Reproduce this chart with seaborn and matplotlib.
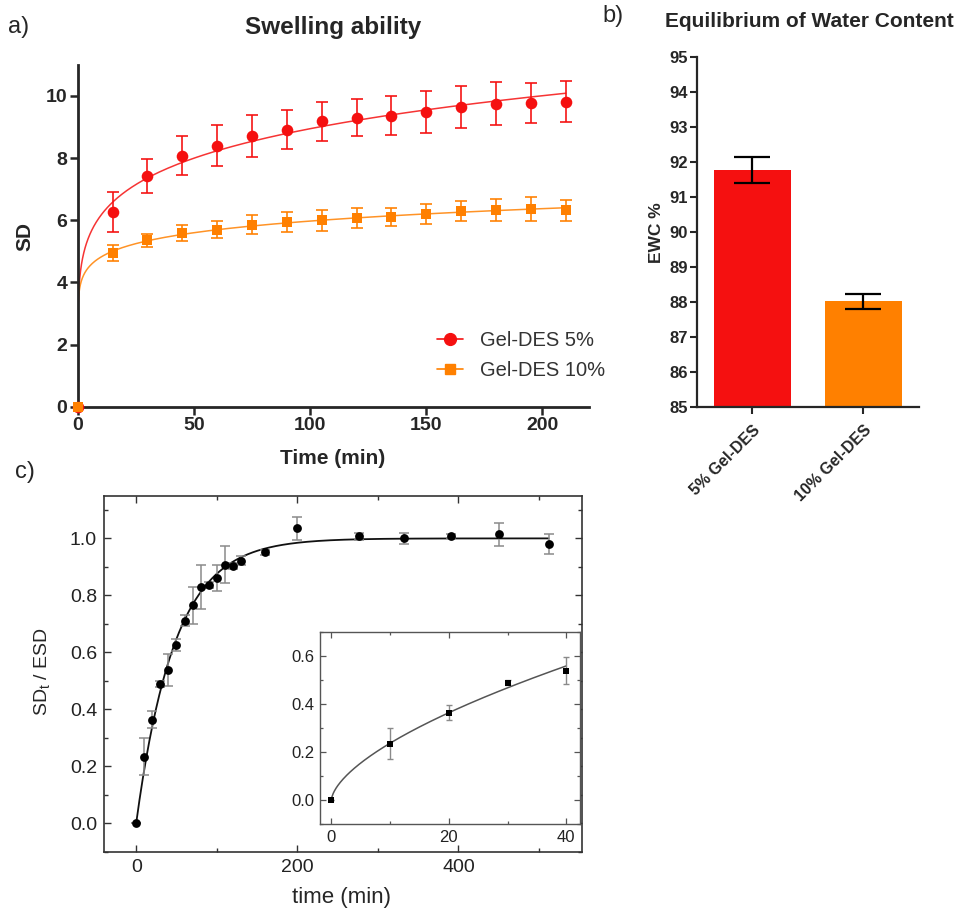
import numpy as np
import matplotlib
matplotlib.use('Agg')
import matplotlib.pyplot as plt
import seaborn as sns
from matplotlib.lines import Line2D
from matplotlib.ticker import MultipleLocator

# a) swelling degree vs time
time_a = [0, 15, 30, 45, 60, 75, 90, 105, 120, 135, 150, 165, 180, 195, 210]
sd_5 = [0, 6.27, 7.43, 8.08, 8.40, 8.72, 8.92, 9.19, 9.30, 9.37, 9.49, 9.64, 9.75, 9.78, 9.82]
err_5 = [0, 0.65, 0.55, 0.62, 0.65, 0.68, 0.63, 0.63, 0.60, 0.62, 0.68, 0.67, 0.70, 0.64, 0.66]
sd_10 = [0, 4.95, 5.35, 5.59, 5.70, 5.86, 5.95, 6.00, 6.08, 6.11, 6.19, 6.30, 6.32, 6.36, 6.32]
err_10 = [0, 0.27, 0.22, 0.27, 0.27, 0.30, 0.33, 0.33, 0.32, 0.30, 0.32, 0.33, 0.35, 0.38, 0.34]

# b) equilibrium water content
groups = ['5% Gel-DES', '10% Gel-DES']
ewc = [91.77, 88.02]
ewc_err = [0.36, 0.22]

# c) SDt / ESD
time_c = [0, 10, 20, 30, 40, 50, 60, 70, 80, 90, 100, 110, 120, 130, 160, 200, 277, 332, 391, 451, 512]
ratio_c = [0, 0.234, 0.363, 0.488, 0.538, 0.626, 0.711, 0.765, 0.830, 0.836, 0.860, 0.908,
           0.904, 0.922, 0.951, 1.035, 1.008, 1.000, 1.009, 1.015, 0.980]
err_c = [0, 0.065, 0.03, 0.01, 0.056, 0.02, 0.02, 0.065, 0.078, 0.01, 0.045, 0.066,
         0.01, 0.015, 0.008, 0.04, 0.012, 0.02, 0.008, 0.04, 0.034]
n_inset = 5  # first points (0-40 min) shown in the inset

RED = '#f51010'
ORANGE = '#ff8000'


def power_fit(x, y):
    x = np.asarray(x, float)
    y = np.asarray(y, float)
    m = x > 0
    b, lna = np.polyfit(np.log(x[m]), np.log(y[m]), 1)
    return np.exp(lna), b


sns.set_theme(style='ticks')
plt.rcParams['font.family'] = ['Liberation Sans', 'DejaVu Sans']
plt.rcParams['mathtext.default'] = 'regular'

fig = plt.figure(figsize=(9.6, 9.14), dpi=100)

# ---------------- a) ----------------
ax = fig.add_axes([0.081, 0.555, 0.5325, 0.374])
t_fit = np.concatenate([[0], np.geomspace(1e-5, 210, 500)])
for y, e, col, mk, s in [(sd_5, err_5, RED, 'o', 70), (sd_10, err_10, ORANGE, 's', 52)]:
    a, b = power_fit(time_a, y)
    yf = np.where(t_fit > 0, a * np.power(np.maximum(t_fit, 1e-12), b), 0)
    sns.lineplot(x=t_fit, y=yf, ax=ax, color=col, lw=1.1, alpha=0.85, sort=False)
    ax.errorbar(time_a[1:], y[1:], yerr=e[1:], fmt='none', ecolor=col, elinewidth=1.3,
                capsize=4, capthick=1.3, alpha=0.9)
    sns.scatterplot(x=time_a, y=y, ax=ax, marker=mk, s=s, color=col, edgecolor=col,
                    linewidth=0, clip_on=False, zorder=5)
ax.set_xlim(0, 220)
ax.set_ylim(0, 11)
ax.xaxis.set_major_locator(MultipleLocator(50))
ax.yaxis.set_major_locator(MultipleLocator(2))
sns.despine(ax=ax)
for sp in ['left', 'bottom']:
    ax.spines[sp].set_linewidth(2)
ax.tick_params(direction='out', length=5.5, width=1.8, labelsize=14, pad=2)
for lab in ax.get_xticklabels() + ax.get_yticklabels():
    lab.set_fontweight('bold')
ax.set_xlabel('Time (min)', fontsize=15, fontweight='bold')
ax.set_ylabel('SD', fontsize=15, fontweight='bold')
ax.xaxis.set_label_coords(0.499, -0.124)
ax.yaxis.set_label_coords(-0.085, 0.497)
handles = [Line2D([], [], color=RED, marker='o', markersize=8.5, lw=1.2),
           Line2D([], [], color=ORANGE, marker='s', markersize=7.5, lw=1.2)]
ax.legend(handles, ['Gel-DES 5%', 'Gel-DES 10%'], loc='center left',
          bbox_to_anchor=(0.683, 0.151), frameon=False, fontsize=14.5, borderpad=0,
          handlelength=1.3, handletextpad=0.85, labelspacing=0.55, labelcolor='#333333')
fig.text(0.008, 0.970, 'a)', fontsize=17, va='center')
fig.text(0.347, 0.970, 'Swelling ability', fontsize=17.5, fontweight='bold',
         ha='center', va='center')

# ---------------- b) ----------------
axb = fig.add_axes([0.7257, 0.5544, 0.2316, 0.3835])
sns.barplot(x=groups, y=ewc, hue=groups, palette=[RED, ORANGE], legend=False,
            width=0.69, ax=axb, linewidth=0, saturation=1)
axb.errorbar(range(len(groups)), ewc, yerr=ewc_err, fmt='none', ecolor='black',
             elinewidth=1.6, capsize=13, capthick=1.6)
axb.set_xlim(-0.5, 1.5)
axb.set_ylim(85, 95)
axb.yaxis.set_major_locator(MultipleLocator(1))
sns.despine(ax=axb)
for sp in ['left', 'bottom']:
    axb.spines[sp].set_linewidth(1.6)
axb.tick_params(direction='out', length=5, width=1.5, labelsize=12)
axb.tick_params(axis='y', pad=1.5)
axb.tick_params(axis='x', pad=6)
for lab in axb.get_yticklabels():
    lab.set_fontweight('bold')
axb.set_xticks(range(len(groups)))
axb.set_xticklabels(groups, rotation=45, ha='right', rotation_mode='anchor',
                    fontweight='bold', fontsize=11.5)
axb.set_xlabel('')
axb.set_ylabel('EWC %', fontsize=12.5, fontweight='bold')
axb.yaxis.set_label_coords(-0.145, 0.497)
fig.text(0.628, 0.982, 'b)', fontsize=17, va='center')
fig.text(0.843, 0.976, 'Equilibrium of Water Content', fontsize=15,
         fontweight='bold', ha='center', va='center')

# ---------------- c) ----------------
axc = fig.add_axes([0.1083, 0.0682, 0.4976, 0.3895])
tc = np.asarray(time_c, float)
rc = np.asarray(ratio_c, float)
ks = np.linspace(0.002, 0.08, 4000)
sse = [np.sum((1 - np.exp(-k * tc) - rc) ** 2) for k in ks]
k_best = ks[int(np.argmin(sse))]
t_line = np.linspace(0, 512, 500)
sns.lineplot(x=t_line, y=1 - np.exp(-k_best * t_line), ax=axc, color='#111111', lw=1.3)
axc.errorbar(time_c, ratio_c, yerr=err_c, fmt='none', ecolor='#8a8a8a', elinewidth=1.1,
             capsize=3.5, capthick=1.1)
sns.scatterplot(x=time_c, y=ratio_c, ax=axc, marker='o', s=40, color='black',
                edgecolor='black', linewidth=0, zorder=5)
axc.set_xlim(-40, 553)
axc.set_ylim(-0.1, 1.15)
axc.xaxis.set_major_locator(MultipleLocator(200))
axc.xaxis.set_minor_locator(MultipleLocator(100))
axc.yaxis.set_major_locator(MultipleLocator(0.2))
axc.yaxis.set_minor_locator(MultipleLocator(0.1))
axc.tick_params(which='both', direction='in', top=True, right=True, width=1,
                colors='#333333', labelcolor='#222222', labelsize=14, pad=5)
axc.tick_params(which='major', length=5)
axc.tick_params(which='minor', length=3)
for sp in axc.spines.values():
    sp.set_linewidth(1.2)
    sp.set_color('#333333')
axc.set_xlabel('time (min)', fontsize=16)
axc.set_ylabel('SD$_t$ / ESD', fontsize=14)
axc.xaxis.set_label_coords(0.498, -0.099)
axc.yaxis.set_label_coords(-0.109, 0.505)
fig.text(0.016, 0.484, 'c)', fontsize=17, va='center')

# inset
axi = fig.add_axes([0.333, 0.0985, 0.271, 0.2104])
axi.set_facecolor('white')
a_i, b_i = power_fit(time_c[:n_inset], ratio_c[:n_inset])
t_in = np.linspace(0, 40, 400)
sns.lineplot(x=t_in, y=a_i * t_in ** b_i, ax=axi, color='#555555', lw=1.1)
axi.errorbar(time_c[:n_inset], ratio_c[:n_inset], yerr=err_c[:n_inset], fmt='none',
             ecolor='#8a8a8a', elinewidth=1, capsize=2.5, capthick=1)
sns.scatterplot(x=time_c[:n_inset], y=ratio_c[:n_inset], ax=axi, marker='s', s=14,
                color='black', edgecolor='black', linewidth=0, zorder=5)
axi.set_xlim(-2, 42.3)
axi.set_ylim(-0.1, 0.7)
axi.xaxis.set_major_locator(MultipleLocator(20))
axi.xaxis.set_minor_locator(MultipleLocator(10))
axi.yaxis.set_major_locator(MultipleLocator(0.2))
axi.yaxis.set_minor_locator(MultipleLocator(0.1))
axi.tick_params(which='both', direction='in', top=True, right=True, width=0.9,
                colors='#555555', labelcolor='#222222', labelsize=12, pad=4)
axi.tick_params(which='major', length=4)
axi.tick_params(which='minor', length=2.5)
for sp in axi.spines.values():
    sp.set_linewidth(1)
    sp.set_color('#555555')
axi.set_xlabel('')
axi.set_ylabel('')

fig.savefig('out.png', dpi=100, facecolor='white')
